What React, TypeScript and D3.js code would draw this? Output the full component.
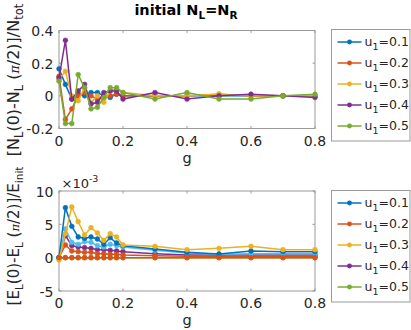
import React from 'react'
import * as d3 from 'd3'

const G = [0, 0.02, 0.04, 0.06, 0.08, 0.1, 0.12, 0.14, 0.16, 0.18, 0.2, 0.3, 0.4, 0.5, 0.6, 0.7, 0.8]
const U_LABELS = ['0.1', '0.2', '0.3', '0.4', '0.5']
const COLORS = ['#0072BD', '#D95319', '#EDB120', '#7E2F8E', '#77AC30', '#4DBEEE']

// top panel: particle imbalance
const N_U1 = [0.165, 0.07, -0.02, 0.01, 0.0, 0.02, 0.02, 0.0, -0.01, 0.01, 0.0, 0.0, 0.0, 0.0, 0.0, 0.0, 0.0]
const N_U2 = [0.12, -0.145, -0.08, 0.0, 0.02, 0.0, -0.02, -0.01, 0.0, 0.01, 0.0, 0.0, 0.0, 0.01, 0.0, 0.0, 0.0]
const N_U3 = [0.1, 0.15, 0.0, -0.03, 0.05, -0.04, 0.0, -0.04, 0.03, 0.04, 0.02, 0.0, 0.0, 0.01, 0.0, 0.0, 0.0]
const N_U4 = [0.11, 0.34, -0.02, 0.03, 0.07, -0.05, -0.04, 0.02, 0.03, 0.03, -0.02, 0.02, -0.02, 0.0, 0.01, 0.0, -0.01]
const N_U5 = [0.09, -0.17, -0.17, 0.13, 0.05, -0.08, -0.07, -0.01, 0.05, 0.05, 0.02, -0.02, 0.02, -0.02, -0.02, 0.0, 0.01]

// bottom panel: energy change (x 1e-3)
const E_U1 = [0, 7.5, 4.7, 3.1, 2.9, 3.1, 2.8, 2.0, 3.0, 2.2, 1.8, 1.3, 0.8, 0.55, 1.0, 0.9, 0.9]
const E_U2 = [0, 1.9, 1.0, 0.9, 0.8, 0.8, 0.6, 0.6, 0.5, 0.5, 0.4, 0.3, 0.2, 0.2, 0.2, 0.2, 0.2]
const E_U3 = [-0.35, 3.6, 7.6, 5.4, 3.4, 4.5, 3.7, 2.6, 3.6, 3.1, 1.9, 1.7, 1.2, 1.4, 1.7, 1.2, 1.2]
const E_U4 = [0, 3.3, 1.8, 1.6, 1.5, 1.4, 1.2, 1.2, 1.1, 1.0, 0.9, 0.6, 0.4, 0.4, 0.4, 0.4, 0.4]
const E_U5 = [0, 0, 0, 0, 0, 0, 0, 0, 0, 0, 0, 0, 0, 0, 0, 0, 0]
const E_LB = [0, 4.3, 2.3, 2.0, 2.4, 2.3, 1.8, 1.6, 2.0, 1.8, 1.6, 1.1, 0.7, 0.5, 0.6, 0.6, 0.6]
const E_ZERO = [0, 0, 0, 0, 0, 0, 0, 0, 0, 0, 0, 0, 0, 0, 0, 0, 0]

const X_TICKS = [0, 0.2, 0.4, 0.6, 0.8]
const N_TICKS = [-0.2, 0, 0.2, 0.4]
const E_TICKS = [-5, 0, 5, 10]

const FONT = 'DejaVu Sans, sans-serif'
const INK = '#262626'
const AX = '#9a9a9a'

const x = d3.scaleLinear().domain([0, 0.8]).range([59, 315])
const yN = d3.scaleLinear().domain([-0.2, 0.4]).range([128.5, 30.5])
const yE = d3.scaleLinear().domain([-5, 10]).range([291, 191])

function Series({ vals, color, y }: { vals: number[]; color: string; y: d3.ScaleLinear<number, number> }) {
  const line = d3.line<number>().x((_, i) => x(G[i])).y(v => y(v))
  return (
    <g>
      <path d={line(vals) || ''} fill="none" stroke={color} strokeWidth={1.5} />
      {vals.map((v, i) => (
        <circle key={i} cx={x(G[i])} cy={y(v)} r={2.4} fill={color} stroke={color} strokeWidth={0.6} />
      ))}
    </g>
  )
}

function Axes({ y, ticks, fmt }: { y: d3.ScaleLinear<number, number>; ticks: number[]; fmt: (v: number) => string }) {
  const [x0, x1] = x.range()
  const [yb, yt] = y.range()
  return (
    <g fontFamily={FONT} fontSize={14} fill={INK}>
      <rect x={x0} y={yt} width={x1 - x0} height={yb - yt} fill="none" stroke={AX} strokeWidth={1} />
      {X_TICKS.map(t => (
        <g key={t}>
          <line x1={x(t)} x2={x(t)} y1={yb} y2={yb - 2.5} stroke={AX} />
          <line x1={x(t)} x2={x(t)} y1={yt} y2={yt + 2.5} stroke={AX} />
          <text x={x(t)} y={yb + 17} textAnchor="middle">{t === 0 ? '0' : t.toFixed(1)}</text>
        </g>
      ))}
      {ticks.map(t => (
        <g key={t}>
          <line x1={x0} x2={x0 + 2.5} y1={y(t)} y2={y(t)} stroke={AX} />
          <line x1={x1} x2={x1 - 2.5} y1={y(t)} y2={y(t)} stroke={AX} />
          <text x={x0 - 5.5} y={y(t) + 5.5} textAnchor="end">{fmt(t)}</text>
        </g>
      ))}
      <text x={(x0 + x1) / 2} y={yb + 34} textAnchor="middle" fontSize={14.5}>g</text>
    </g>
  )
}

function Legend({ top }: { top: number }) {
  return (
    <g fontFamily={FONT} fontSize={12.5} fill={INK}>
      <rect x={331.5} y={top} width={78.5} height={111.5} fill="#fff" stroke={AX} strokeWidth={1} />
      {U_LABELS.map((u, i) => {
        const yy = top + 12.5 + i * 21
        return (
          <g key={u}>
            <line x1={337.5} x2={361.5} y1={yy} y2={yy} stroke={COLORS[i]} strokeWidth={1.5} />
            <circle cx={349.5} cy={yy} r={2.4} fill={COLORS[i]} />
            <text x={364.5} y={yy + 3.5}>
              u<tspan fontSize={9.5} dy={4.5}>1</tspan><tspan dy={-4.5}>={u}</tspan>
            </text>
          </g>
        )
      })}
    </g>
  )
}

export default function App() {
  const fmtN = (v: number) => (v === 0 ? '0' : v.toFixed(1))
  const fmtE = (v: number) => String(v)
  return (
    <svg width={411} height={330} style={{ position: 'absolute', left: 0, top: 0, background: '#fff' }}>
      <text x={186} y={15} textAnchor="middle" fontFamily={FONT} fontSize={14.5} fontWeight="bold" fill="#000">
        initial N<tspan fontSize={10.5} dy={4}>L</tspan><tspan dy={-4}>=N</tspan><tspan fontSize={10.5} dy={4}>R</tspan>
      </text>

      <Axes y={yN} ticks={N_TICKS} fmt={fmtN} />
      {[N_U1, N_U2, N_U3, N_U4, N_U5].map((s, i) => (
        <Series key={i} vals={s} color={COLORS[i]} y={yN} />
      ))}
      <text transform="translate(18.5,80) rotate(-90)" textAnchor="middle" fontFamily={FONT} fontSize={16} fill={INK}>
        [N<tspan fontSize={11.5} dy={4.5}>L</tspan><tspan dy={-4.5}>(0)-N</tspan><tspan fontSize={11.5} dy={4.5}>L</tspan>
        <tspan dy={-4.5}> (</tspan><tspan fontStyle="italic" fontFamily="DejaVu Serif, serif" fontSize={12.5}>π</tspan>
        <tspan>/2)]/N</tspan><tspan fontSize={11.5} dy={4.5}>tot</tspan>
      </text>
      <Legend top={29.5} />

      <Axes y={yE} ticks={E_TICKS} fmt={fmtE} />
      {[E_U5, E_U4, E_U2, E_LB, E_U1, E_U3, E_ZERO].map((s, i) => (
        <Series key={i} vals={s} color={[COLORS[4], COLORS[3], COLORS[1], COLORS[5], COLORS[0], COLORS[2], COLORS[1]][i]} y={yE} />
      ))}
      <text x={61.5} y={188} fontFamily={FONT} fontSize={13} fill={INK}>
        ×10<tspan fontSize={9.5} dy={-6}>-3</tspan>
      </text>
      <text transform="translate(18.5,236) rotate(-90)" textAnchor="middle" fontFamily={FONT} fontSize={15} fill={INK}>
        [E<tspan fontSize={10.5} dy={4.5}>L</tspan><tspan dy={-4.5}>(0)-E</tspan><tspan fontSize={10.5} dy={4.5}>L</tspan>
        <tspan dy={-4.5}> (</tspan><tspan fontStyle="italic" fontFamily="DejaVu Serif, serif" fontSize={11.5}>π</tspan>
        <tspan>/2)]/E</tspan><tspan fontSize={10.5} dy={4.5}>init</tspan>
      </text>
      <Legend top={190.5} />
    </svg>
  )
}
